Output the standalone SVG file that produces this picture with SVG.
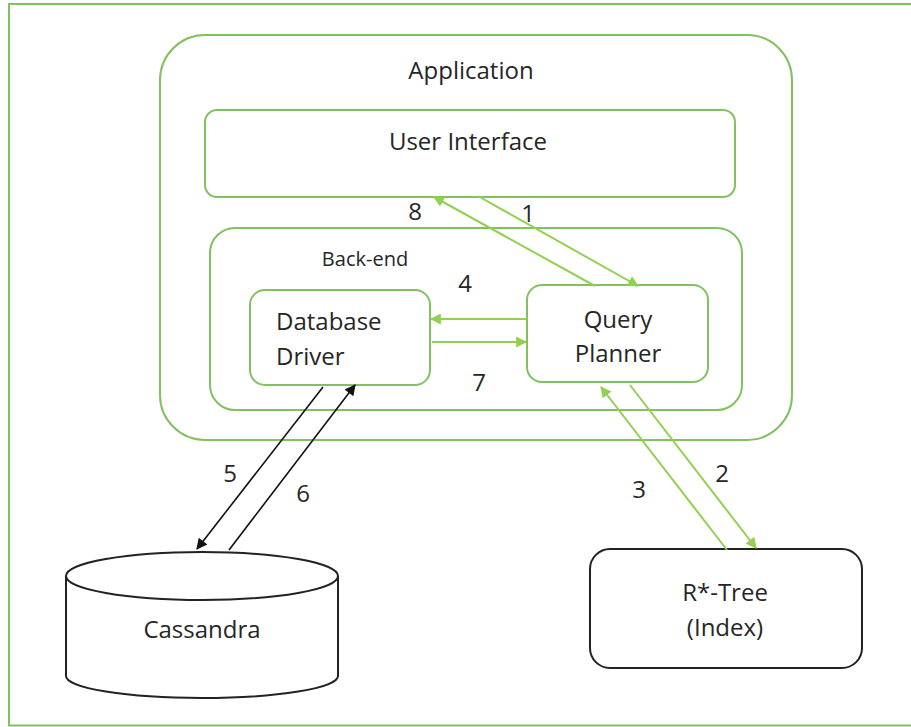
<svg xmlns="http://www.w3.org/2000/svg" width="911" height="727" viewBox="0 0 911 727">
<style>
.box{fill:#fff;stroke:#82C160;stroke-width:2}
.blk{fill:#fff;stroke:#222;stroke-width:2}
.t{font-family:"Open Sans","Liberation Sans",sans-serif;font-size:24px;fill:#262626;text-anchor:middle}
.s{font-size:20px}
.g{stroke:#92D050;stroke-width:2;fill:none}
.k{stroke:#111;stroke-width:1.6;fill:none}
</style>
<defs>
<marker id="ag" viewBox="0 0 10 10" refX="9" refY="5" markerWidth="13" markerHeight="11" markerUnits="userSpaceOnUse" orient="auto"><path d="M0,0L10,5L0,10z" fill="#92D050"/></marker>
<marker id="ak" viewBox="0 0 10 10" refX="9" refY="5" markerWidth="13" markerHeight="11" markerUnits="userSpaceOnUse" orient="auto"><path d="M0,0L10,5L0,10z" fill="#111"/></marker>
</defs>
<rect width="911" height="727" fill="#fff"/>
<rect id="frame" x="9" y="4" width="920" height="721.5" fill="none" stroke="#82C160" stroke-width="2"/>
<g id="application"><rect class="box" x="160" y="35" width="632" height="405" rx="45"/><text class="t" x="471" y="79">Application</text></g>
<g id="user-interface"><rect class="box" x="205" y="110" width="530" height="87" rx="12"/><text class="t" x="468" y="150">User Interface</text></g>
<g id="back-end"><rect class="box" x="210" y="228" width="532" height="182" rx="25"/><text class="t s" x="365" y="266">Back-end</text></g>
<g id="database-driver"><rect class="box" x="250" y="290" width="180" height="95" rx="15"/><text class="t" x="276" y="330" style="text-anchor:start">Database</text><text class="t" x="276" y="365" style="text-anchor:start">Driver</text></g>
<g id="query-planner"><rect class="box" x="527" y="285" width="181" height="97" rx="15"/><text class="t" x="618" y="328">Query</text><text class="t" x="618" y="362">Planner</text></g>
<g id="rtree"><rect class="blk" x="590" y="549" width="272" height="119" rx="20"/><text class="t" x="725" y="601">R*-Tree</text><text class="t" x="725" y="636">(Index)</text></g>
<g id="cassandra"><path class="blk" d="M66,576 L66,676 A136,22 0 0 0 338,676 L338,576"/><ellipse class="blk" cx="202" cy="576" rx="136" ry="24"/><text class="t" x="202" y="638">Cassandra</text></g>
<g id="connectors">
<line class="g" x1="478" y1="196" x2="638" y2="286" marker-end="url(#ag)"/>
<line class="g" x1="595" y1="286" x2="434" y2="197" marker-end="url(#ag)"/>
<line class="g" x1="527" y1="319" x2="431" y2="319" marker-end="url(#ag)"/>
<line class="g" x1="432" y1="342" x2="526" y2="342" marker-end="url(#ag)"/>
<line class="g" x1="630" y1="385" x2="756" y2="548" marker-end="url(#ag)"/>
<line class="g" x1="727" y1="550" x2="601" y2="387" marker-end="url(#ag)"/>
<line class="k" x1="323" y1="387" x2="197" y2="549" marker-end="url(#ak)"/>
<line class="k" x1="229" y1="550" x2="355" y2="385" marker-end="url(#ak)"/>
<text class="t" x="415" y="220">8</text>
<text class="t" x="528" y="222">1</text>
<text class="t" x="465" y="292">4</text>
<text class="t" x="479" y="391">7</text>
<text class="t" x="230" y="482">5</text>
<text class="t" x="303" y="502">6</text>
<text class="t" x="639" y="498">3</text>
<text class="t" x="722" y="482">2</text>
</g>
</svg>
